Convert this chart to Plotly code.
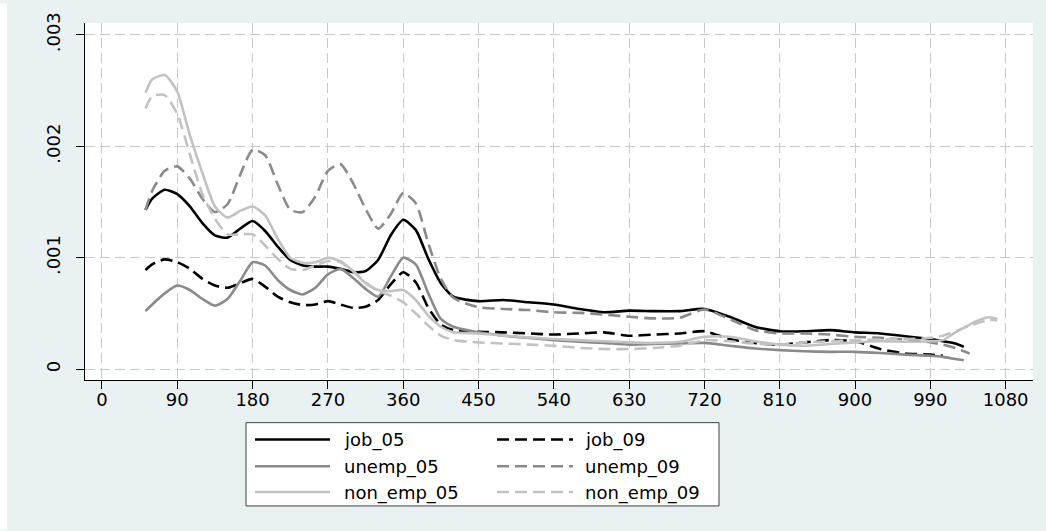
import plotly.graph_objects as go

# ---------------- data ----------------
DAYS = [52, 60, 75, 90, 105, 120, 135, 150, 165, 180, 195, 210, 225, 240, 255,
        270, 285, 300, 315, 330, 345, 360, 375, 390, 405, 420, 450, 480, 510,
        540, 570, 600, 630, 660, 690, 720, 750, 780, 810, 840, 870, 900, 930,
        960, 990, 1005, 1020, 1030, 1037, 1045, 1060, 1070]

job_05 = [0.00143, 0.00153, 0.00161, 0.00157, 0.00146, 0.00131, 0.00120, 0.00118,
          0.00126, 0.00133, 0.00124, 0.00110, 0.00098, 0.00093, 0.00092, 0.00092,
          0.00090, 0.00087, 0.00088, 0.00098, 0.00120, 0.00134, 0.00125, 0.00099,
          0.00077, 0.00065, 0.00061, 0.00062, 0.00060, 0.00058, 0.00054, 0.00051,
          0.000525, 0.00052, 0.00052, 0.00054, 0.00047, 0.00038, 0.00034, 0.00034,
          0.00035, 0.00033, 0.00032, 0.000295, 0.00027, 0.00025, 0.00023, 0.00020,
          None, None, None, None]

job_09 = [0.00089, 0.00094, 0.000985, 0.00096, 0.00090, 0.00081, 0.00075, 0.00073,
          0.00077, 0.00081, 0.00074, 0.00065, 0.00060, 0.000575, 0.00058, 0.00061,
          0.00058, 0.00055, 0.00056, 0.00062, 0.00076, 0.00087, 0.00078, 0.00055,
          0.00040, 0.00035, 0.000335, 0.00033, 0.00032, 0.00031, 0.00032, 0.00033,
          0.00030, 0.00031, 0.00032, 0.00034, 0.00027, 0.000235, 0.00022, 0.00024,
          0.00026, 0.00025, 0.00018, 0.00014, 0.00013, 0.00012, None, None,
          None, None, None, None]

unemp_05 = [0.00052, 0.00058, 0.00068, 0.00075, 0.00071, 0.00063, 0.00057, 0.00063,
            0.00079, 0.00096, 0.00093, 0.00080, 0.00071, 0.00067, 0.00073, 0.00085,
            0.00090, 0.00082, 0.00072, 0.00065, 0.00083, 0.00100, 0.00094, 0.00068,
            0.00045, 0.00038, 0.00033, 0.00030, 0.00028, 0.00026, 0.000245, 0.000235,
            0.00022, 0.000225, 0.00023, 0.000235, 0.00021, 0.000185, 0.00017, 0.00016,
            0.000155, 0.000155, 0.000145, 0.00013, 0.00012, 0.00011, 0.00009, 0.00008,
            None, None, None, None]

unemp_09 = [0.00143, 0.00160, 0.00178, 0.00182, 0.00171, 0.00153, 0.00141, 0.00148,
            0.00174, 0.00197, 0.00192, 0.00166, 0.00143, 0.00141, 0.00155, 0.00178,
            0.00184, 0.00167, 0.00144, 0.00126, 0.00139, 0.00158, 0.00149, 0.00113,
            0.00081, 0.00064, 0.000555, 0.00054, 0.00053, 0.00051, 0.000505, 0.00049,
            0.00047, 0.000455, 0.00046, 0.000535, 0.00045, 0.00035, 0.00032, 0.00032,
            0.00031, 0.00029, 0.00028, 0.000265, 0.00024, 0.00022, 0.00019, 0.00016,
            0.00014, None, None, None]

non_emp_05 = [0.00248, 0.00260, 0.00264, 0.00249, 0.00210, 0.00176, 0.00146, 0.00136,
              0.00142, 0.00146, 0.00138, 0.00117, 0.00100, 0.000955, 0.00096, 0.00100,
              0.00097, 0.00088, 0.00077, 0.00071, 0.00070, 0.00071, 0.00062, 0.00048,
              0.00038, 0.00033, 0.00032, 0.00030, 0.000285, 0.00027, 0.00026, 0.00025,
              0.00024, 0.000235, 0.000245, 0.00029, 0.00029, 0.00025, 0.00022, 0.00021,
              0.000225, 0.00024, 0.00025, 0.000245, 0.00025, 0.00026, 0.00033, 0.00037,
              0.00040, 0.00043, 0.000465, 0.00045]

non_emp_09 = [0.00234, 0.00245, 0.00246, 0.00229, 0.00193, 0.00157, 0.00135, 0.00121,
              0.00121, 0.00121, 0.00111, 0.00099, 0.00090, 0.00089, 0.00093, 0.00097,
              0.00096, 0.00088, 0.00078, 0.00070, 0.00066, 0.00060, 0.00050, 0.00039,
              0.00030, 0.00026, 0.00024, 0.00023, 0.00022, 0.00021, 0.00019, 0.00018,
              0.00018, 0.00019, 0.00021, 0.00026, 0.00025, 0.00023, 0.00022, 0.00024,
              0.00025, 0.00026, 0.000265, 0.00027, 0.00028, 0.00030, 0.00034, 0.00037,
              0.00039, 0.00041, 0.00044, 0.00044]

X_TICKS = [0, 90, 180, 270, 360, 450, 540, 630, 720, 810, 900, 990, 1080]
Y_TICKS = [0, 0.001, 0.002, 0.003]
Y_TICK_TEXT = ["0", ".001", ".002", ".003"]

SERIES = [
    ("job_05", job_05),
    ("job_09", job_09),
    ("unemp_05", unemp_05),
    ("unemp_09", unemp_09),
    ("non_emp_05", non_emp_05),
    ("non_emp_09", non_emp_09),
]

# ---------------- styling ----------------
COLORS = {"job": "#000000", "unemp": "#8a8a8a", "non_emp": "#c2c2c2"}
DASH = "12px,6px"
FONT = "DejaVu Sans, sans-serif"
FS = 18
BG = "#eaf1f3"

W, H = 1046, 531
ML, MR, MT, MB = 85, 13, 20, 151
PW, PH = W - ML - MR, H - MT - MB


def style_of(name):
    group = name.rsplit("_", 1)[0]
    dashed = name.endswith("_09")
    return COLORS[group], (DASH if dashed else "solid")


fig = go.Figure()
for name, vals in SERIES:
    color, dash = style_of(name)
    fig.add_trace(go.Scatter(
        x=DAYS, y=vals, name=name, mode="lines",
        line=dict(color=color, width=2.6, dash=dash, shape="spline", smoothing=0.6),
        connectgaps=False, showlegend=False,
    ))


def px_to_paper_x(px):
    return (px - ML) / PW


def px_to_paper_y(py):
    return (H - MB - py) / PH


shapes = []
annotations = []

# white strip at the far left of the image
shapes.append(dict(type="rect", xref="paper", yref="paper", layer="below",
                   x0=px_to_paper_x(0), x1=px_to_paper_x(7),
                   y0=px_to_paper_y(H), y1=px_to_paper_y(0),
                   fillcolor="white", line=dict(width=0)))

# legend box
shapes.append(dict(type="rect", xref="paper", yref="paper",
                   x0=px_to_paper_x(246), x1=px_to_paper_x(719),
                   y0=px_to_paper_y(507), y1=px_to_paper_y(423),
                   fillcolor="white", line=dict(color="#404040", width=1)))

col_line = [(255, 330), (497, 573)]
col_text = [342, 583]
row_y = [440, 467, 493]
for i, (name, _) in enumerate(SERIES):
    r, c = divmod(i, 2)
    color, dash = style_of(name)
    shapes.append(dict(type="line", xref="paper", yref="paper",
                       x0=px_to_paper_x(col_line[c][0]), x1=px_to_paper_x(col_line[c][1]),
                       y0=px_to_paper_y(row_y[r]), y1=px_to_paper_y(row_y[r]),
                       line=dict(color=color, width=2.6, dash=dash)))
    annotations.append(dict(xref="paper", yref="paper",
                            x=px_to_paper_x(col_text[c]), y=px_to_paper_y(row_y[r] + 1),
                            text=name, showarrow=False, xanchor="left", yanchor="middle",
                            font=dict(family=FONT, size=FS, color="black")))

fig.update_layout(
    width=W, height=H,
    margin=dict(l=ML, r=MR, t=MT, b=MB, pad=0),
    paper_bgcolor=BG, plot_bgcolor="white",
    font=dict(family=FONT, size=FS, color="black"),
    showlegend=False,
    shapes=shapes, annotations=annotations,
    xaxis=dict(
        range=[-20.3, 1112.7], tickmode="array", tickvals=X_TICKS,
        ticklabelstandoff=-5,
        ticks="outside", ticklen=8, tickcolor="black", tickwidth=1,
        showline=True, linecolor="black", linewidth=1,
        showgrid=True, gridcolor="#c8c8c8", gridwidth=1, griddash="10px,5px",
        zeroline=False, tickfont=dict(family=FONT, size=FS, color="black"),
    ),
    yaxis=dict(
        range=[-0.0000979, 0.003107], tickmode="array", tickvals=Y_TICKS,
        ticktext=Y_TICK_TEXT, tickangle=-90, ticklabelstandoff=9,
        ticks="outside", ticklen=8, tickcolor="black", tickwidth=1,
        showline=True, linecolor="black", linewidth=1,
        showgrid=True, gridcolor="#c8c8c8", gridwidth=1, griddash="10px,5px",
        zeroline=False, tickfont=dict(family=FONT, size=FS, color="black"),
    ),
)

fig.write_html(
    "out.html",
    config={"displayModeBar": False},
    post_script="document.body.style.margin='0px';document.body.style.background='%s';" % BG,
)
